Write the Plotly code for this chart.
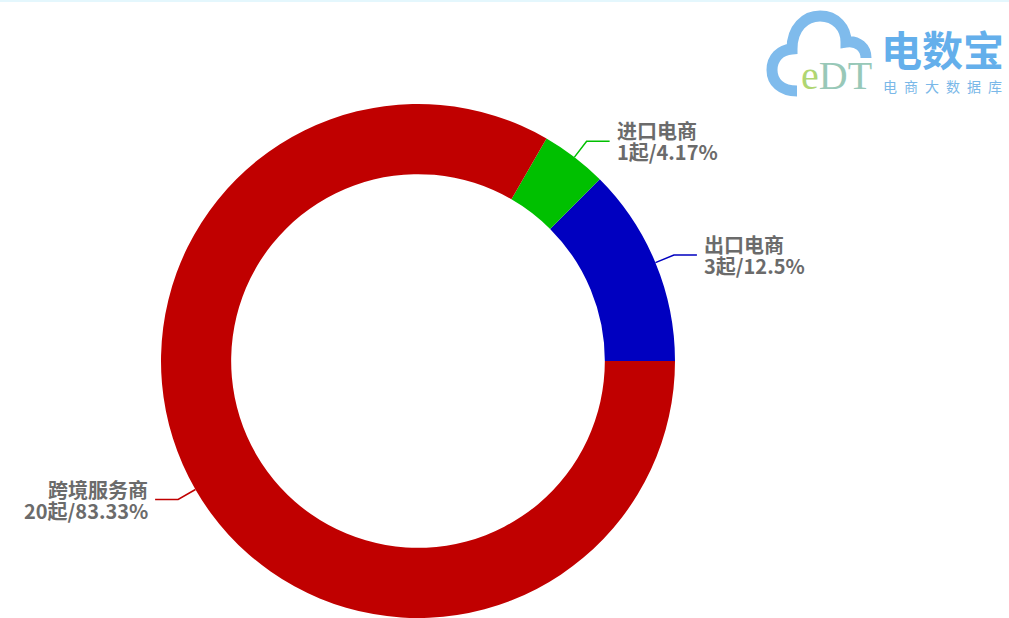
"""
Donut chart: 跨境电商 categories, count and share per category.
"""
import math
import plotly.graph_objects as go

W, H = 1009, 618

labels = ["出口电商", "进口电商", "跨境服务商"]
counts = [3, 1, 20]
pct_text = ["12.5%", "4.17%", "83.33%"]
colors = ["#0000c0", "#00c000", "#c00000"]

# pie geometry in pixels (layout, not data)
CX, CY, R = 418, 361, 257
LINE1, LINE2, GAP = 20, 23, 5
FONT = "Noto Sans CJK SC, Microsoft YaHei, sans-serif"


def px(x):
    return x / W


def py(y):
    return 1 - y / H


fig = go.Figure(go.Pie(
    labels=labels,
    values=counts,
    sort=False,
    direction="counterclockwise",
    rotation=45,
    hole=0.727,
    marker=dict(colors=colors, line=dict(width=0)),
    textinfo="none",
    hoverinfo="skip",
    showlegend=False,
    domain=dict(x=[px(CX - R), px(CX + R)], y=[py(CY + R), py(CY - R)]),
))

shapes = []
annotations = []
total = sum(counts)
start = 0.0
for name, c, p, col in zip(labels, counts, pct_text, colors):
    span = c / total * 360
    mid = math.radians(start + span / 2)
    start += span
    ca, sa = math.cos(mid), math.sin(mid)
    x0, y0 = CX + R * ca, CY - R * sa
    x1, y1 = CX + (R + LINE1) * ca, CY - (R + LINE1) * sa
    side = 1 if ca >= 0 else -1
    x2 = x1 + side * LINE2
    shapes.append(dict(
        type="path", xref="paper", yref="paper",
        path=f"M {px(x0)},{py(y0)} L {px(x1)},{py(y1)} L {px(x2)},{py(y1)}",
        line=dict(color=col, width=1.5),
    ))
    # two lines set close together, as in the source chart
    for txt, dy in [(name, -10.5), (f"{c}起/{p}", 10.5)]:
        annotations.append(dict(
            text=f"<b>{txt}</b>", xref="paper", yref="paper",
            x=px(x2 + side * GAP), y=py(y1 + dy),
            xanchor="left" if side > 0 else "right", yanchor="middle",
            showarrow=False, font=dict(family=FONT, size=20, color="#6b6b6b"),
        ))

# top border strip
shapes.append(dict(type="rect", xref="paper", yref="paper",
                   x0=0, x1=1, y0=py(2), y1=1,
                   fillcolor="#e4f7fd", line=dict(width=0), layer="below"))

# logo: cloud outline
cloud = [
    ("M", [(797, 91)]),
    ("C", [(781, 91), (772, 82), (772, 70)]),
    ("C", [(772, 58), (780, 50), (792, 49)]),
    ("C", [(792, 28), (805, 16), (820, 16)]),
    ("C", [(836, 16), (846, 28), (846, 42)]),
    ("C", [(858, 40), (866, 48), (866, 58)]),
]
path = " ".join(cmd + " " + " ".join(f"{px(a)},{py(b)}" for a, b in pts)
                for cmd, pts in cloud)
shapes.append(dict(type="path", xref="paper", yref="paper", path=path,
                   line=dict(color="#7fbbec", width=11)))

annotations += [
    dict(text="<span style='color:#b0d672'>e</span>"
              "<span style='color:#98c8b8'>DT</span>",
         xref="paper", yref="paper", x=px(836), y=py(76),
         xanchor="center", yanchor="middle", showarrow=False,
         font=dict(family="Liberation Serif", size=40)),
    dict(text="<b>电数宝</b>", xref="paper", yref="paper", x=px(942), y=py(48),
         xanchor="center", yanchor="middle", showarrow=False,
         font=dict(family=FONT, size=41, color="#64afeb")),
    dict(text="\u2002".join("电商大数据库"), xref="paper", yref="paper",
         x=px(942), y=py(86), xanchor="center", yanchor="middle",
         showarrow=False, font=dict(family=FONT, size=14, color="#7ab8e8")),
]

fig.update_layout(
    width=W, height=H,
    margin=dict(l=0, r=0, t=0, b=0),
    paper_bgcolor="white",
    plot_bgcolor="white",
    shapes=shapes,
    annotations=annotations,
)

fig.write_html("out.html", config={"displayModeBar": False},
               post_script="document.body.style.margin='0';"
               "document.body.style.overflow='hidden';")
